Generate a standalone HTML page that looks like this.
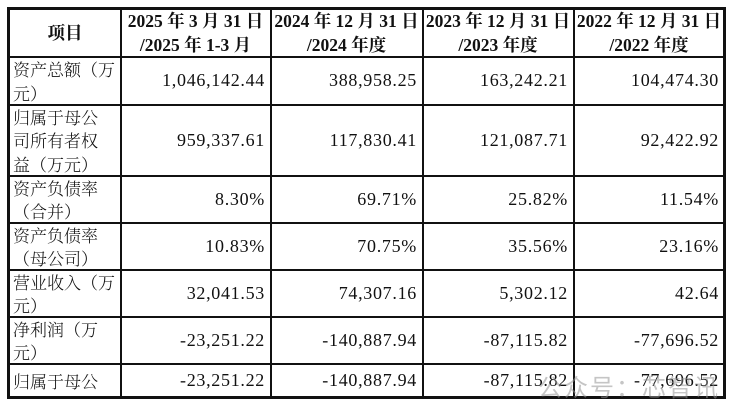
<!DOCTYPE html>
<html><head><meta charset="utf-8"><style>
body{margin:0;width:730px;height:406px;background:#fff;overflow:hidden;position:relative;font-family:"Liberation Serif","Noto Serif CJK SC",serif;color:#111}
.frame{position:absolute;left:7px;top:7px;width:713px;height:386px;border:3px solid #111}
.v,.h{position:absolute;background:#111}
.v{width:1.5px;top:8px;height:389px}
.h{height:1.5px;left:8px;width:716px}
.c{position:absolute;display:flex;align-items:center;font-size:18px;line-height:23px}
.hd{font-weight:bold;justify-content:center;text-align:center;font-size:17.5px;line-height:24px}
.lab{font-family:"Noto Serif CJK SC","Liberation Serif",serif;font-size:17px;line-height:23.5px;padding-left:4px;box-sizing:border-box;font-weight:300}
.num{justify-content:flex-end;padding-right:5px;box-sizing:border-box;letter-spacing:0.7px}
.wm{position:absolute;left:538px;top:368px;font-family:"Noto Sans CJK SC",sans-serif;font-size:24px;color:rgba(150,150,150,0.55);letter-spacing:2px}
</style></head><body>
<div class="frame"></div>
<div class="v" style="left:120px"></div>
<div class="v" style="left:270px"></div>
<div class="v" style="left:422px"></div>
<div class="v" style="left:573px"></div>
<div class="h" style="top:56px"></div>
<div class="h" style="top:104px"></div>
<div class="h" style="top:175px"></div>
<div class="h" style="top:222px"></div>
<div class="h" style="top:269px"></div>
<div class="h" style="top:316px"></div>
<div class="h" style="top:363px"></div>

<div class="c hd" style="left:10px;top:9px;width:110px;height:47px">项目</div>
<div class="c hd" style="left:121px;top:9px;width:149px;height:47px">2025 年 3 月 31 日<br>/2025 年 1-3 月</div>
<div class="c hd" style="left:271px;top:9px;width:151px;height:47px">2024 年 12 月 31 日<br>/2024 年度</div>
<div class="c hd" style="left:423px;top:9px;width:150px;height:47px">2023 年 12 月 31 日<br>/2023 年度</div>
<div class="c hd" style="left:574px;top:9px;width:150px;height:47px">2022 年 12 月 31 日<br>/2022 年度</div>

<div id="rows"></div>
<div class="wm">公众号：芯智讯</div>
<script>
const labels=["资产总额（万<br>元）","归属于母公<br>司所有者权<br>益（万元）","资产负债率<br>（合并）","资产负债率<br>（母公司）","营业收入（万<br>元）","净利润（万<br>元）","归属于母公"];
const col2025=["1,046,142.44","959,337.61","8.30%","10.83%","32,041.53","-23,251.22","-23,251.22"];
const col2024=["388,958.25","117,830.41","69.71%","70.75%","74,307.16","-140,887.94","-140,887.94"];
const col2023=["163,242.21","121,087.71","25.82%","35.56%","5,302.12","-87,115.82","-87,115.82"];
const col2022=["104,474.30","92,422.92","11.54%","23.16%","42.64","-77,696.52","-77,696.52"];
const tops=[57,105,176,223,270,317,364], bots=[104,175,222,269,316,363,397];
const cols=[[271,151,col2024],[423,150,col2023],[574,150,col2022]];
const root=document.getElementById('rows');
for(let i=0;i<labels.length;i++){
  const t=tops[i],h=bots[i]-tops[i];
  const l=document.createElement('div');l.className='c lab';
  l.style.cssText=`left:9px;top:${t}px;width:111px;height:${h}px`;
  l.innerHTML=labels[i];
  
  
  root.appendChild(l);
  const all=[[121,149,col2025]].concat(cols);
  for(const [x,w,arr] of all){
    const d=document.createElement('div');d.className='c num';
    d.style.cssText=`left:${x}px;top:${t}px;width:${w}px;height:${h}px`;
    d.textContent=arr[i];
    
    
    root.appendChild(d);
  }
}
</script>
</body></html>
